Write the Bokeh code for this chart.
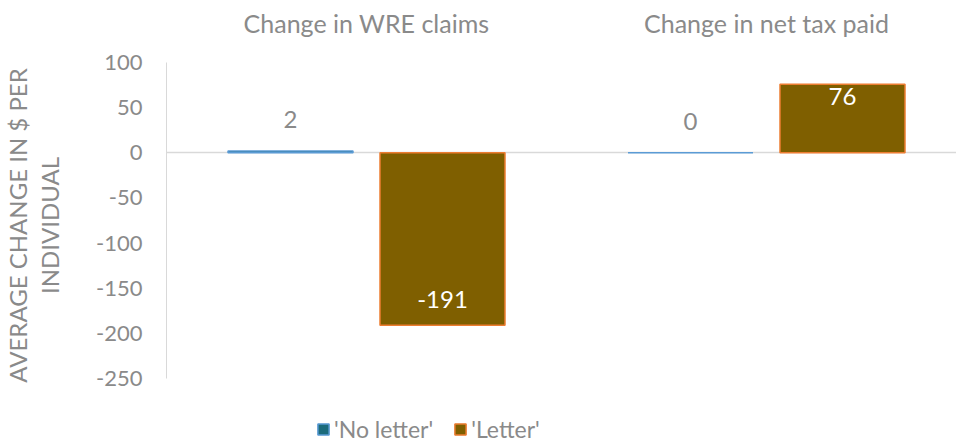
from bokeh.plotting import figure
from bokeh.models import (ColumnDataSource, Range1d, FixedTicker, Legend,
                          LegendItem, LabelSet)
from bokeh.transform import dodge
from bokeh.core.properties import value
from bokeh.embed import file_html
from bokeh.resources import INLINE

# ---- data ----
categories = ["Change in WRE claims", "Change in net tax paid"]
series = ["'No letter'", "'Letter'"]
no_letter = [2, 0]
letter = [-191, 76]
y_ticks = [-250, -200, -150, -100, -50, 0, 50, 100]
y_title = "AVERAGE CHANGE IN $ PER\nINDIVIDUAL"

FONT = "Lato"
GRAY = "#8a8a8a"
TEAL = "#1b6b7b"
TEAL_LINE = "#5b9bd5"
BROWN = "#7f5f00"
BROWN_LINE = "#ed7d31"

xpos = [i + 0.5 for i in range(len(categories))]
OFF = 0.19
BW = 0.3125
ROOM_BELOW = 72   # value-room under the lowest tick (legend area)
ROOM_ABOVE = 61   # value-room over the highest tick (category titles)

src = ColumnDataSource(dict(x=xpos, no_letter=no_letter, letter=letter))

p = figure(frame_width=790, frame_height=436, x_range=Range1d(0, 1.975),
           y_range=Range1d(min(y_ticks) - ROOM_BELOW, max(y_ticks) + ROOM_ABOVE),
           output_backend="svg", toolbar_location=None, x_axis_location=None,
           min_border_left=166, min_border_top=7, min_border_right=0,
           min_border_bottom=0)
p.outline_line_color = None
p.background_fill_color = "white"
p.border_fill_color = "white"

r1 = p.vbar(x=dodge("x", -OFF), top="no_letter", bottom=0, width=BW,
            fill_color=TEAL, line_color=TEAL_LINE, line_width=1.5, source=src)
r2 = p.vbar(x=dodge("x", OFF), top="letter", bottom=0, width=BW,
            fill_color=BROWN, line_color=BROWN_LINE, line_width=1.5, source=src)

# category titles above the value area
cat_src = ColumnDataSource(dict(x=xpos, y=[max(y_ticks)] * len(xpos),
                                text=categories))
p.add_layout(LabelSet(x="x", y="y", text="text", source=cat_src, y_offset=40,
                      text_align="center", text_baseline="middle",
                      text_font=value(FONT), text_font_size="25px",
                      text_color=GRAY))

# data labels
lab_nl = ColumnDataSource(dict(x=xpos, y=no_letter,
                               text=[str(v) for v in no_letter]))
p.add_layout(LabelSet(x=dodge("x", -OFF), y="y", text="text", source=lab_nl,
                      y_offset=23, text_align="center", text_baseline="bottom",
                      text_font=value(FONT), text_font_size="24px",
                      text_color=GRAY))
lab_l = ColumnDataSource(dict(
    x=xpos, y=letter, text=[str(v) for v in letter],
    off=[17 if v < 0 else -4 for v in letter],
    base=["bottom" if v < 0 else "top" for v in letter]))
p.add_layout(LabelSet(x=dodge("x", OFF), y="y", text="text", source=lab_l,
                      y_offset="off", text_align="center", text_baseline="base",
                      text_font=value(FONT), text_font_size="24px",
                      text_color="white"))

# y axis
p.yaxis.ticker = FixedTicker(ticks=y_ticks)
p.yaxis.bounds = (min(y_ticks), max(y_ticks))
p.yaxis.major_label_overrides = {t: str(t) for t in y_ticks}
p.yaxis.axis_line_color = "#d9d9d9"
p.yaxis.major_tick_line_color = None
p.yaxis.minor_tick_line_color = None
p.yaxis.major_tick_out = 0
p.yaxis.major_tick_in = 0
p.yaxis.major_label_standoff = 24
p.yaxis.major_label_text_font = FONT
p.yaxis.major_label_text_font_size = "22px"
p.yaxis.major_label_text_color = GRAY
p.yaxis.axis_label = y_title
p.yaxis.axis_label_text_font = FONT
p.yaxis.axis_label_text_font_size = "24px"
p.yaxis.axis_label_text_line_height = 1.1
p.yaxis.axis_label_text_font_style = "normal"
p.yaxis.axis_label_text_color = GRAY
p.yaxis.axis_label_standoff = 29

p.xgrid.visible = False
p.ygrid.ticker = FixedTicker(ticks=[0])
p.ygrid.grid_line_color = "#d9d9d9"
p.ygrid.grid_line_width = 1.5

legend = Legend(items=[LegendItem(label=series[0], renderers=[r1]),
                       LegendItem(label=series[1], renderers=[r2])],
                orientation="horizontal", location=(150, 0),
                glyph_width=14, glyph_height=14, label_standoff=4, spacing=20,
                padding=0, margin=0, border_line_color=None,
                background_fill_alpha=0, label_text_font=FONT,
                label_text_font_size="23px", label_text_color=GRAY,
                label_height=18)
p.add_layout(legend, "center")

open("out.html", "w").write(file_html(p, INLINE))
